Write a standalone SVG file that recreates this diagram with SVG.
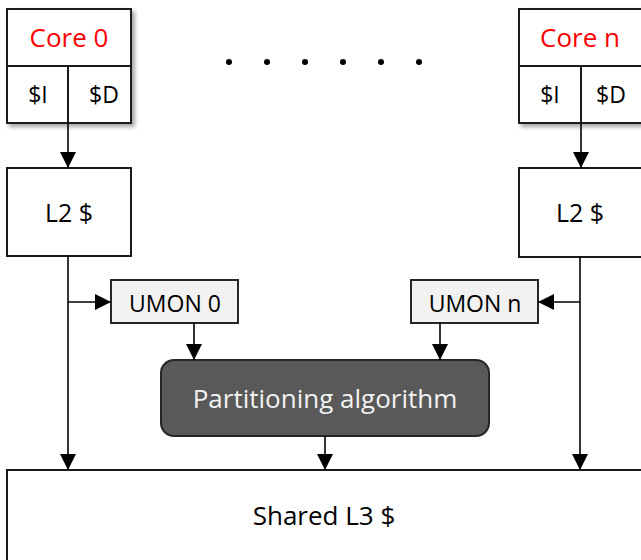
<svg xmlns="http://www.w3.org/2000/svg" width="641" height="560" viewBox="0 0 641 560">
<style>
.box{fill:#fff;stroke:#1a1a1a;stroke-width:2}
.umon{fill:#f2f2f2;stroke:#262626;stroke-width:2}
.alg{fill:#595959;stroke:#262626;stroke-width:2}
.t{font-family:"Open Sans","DejaVu Sans",sans-serif;text-anchor:middle;fill:#000}
.red{fill:#ff0000}
.w{fill:#f2f2f2}
.conn{stroke:#000;stroke-width:1.6;fill:none}
</style>
<defs>
<filter id="sh" x="-10%" y="-10%" width="130%" height="130%">
<feDropShadow dx="3" dy="3" stdDeviation="2" flood-color="#000" flood-opacity="0.35"/>
</filter>
<marker id="ah" markerUnits="userSpaceOnUse" markerWidth="16" markerHeight="16" refX="16" refY="8" orient="auto">
<path d="M0,0 L16,8 L0,16 z" fill="#000"/>
</marker>
</defs>
<g id="core0">
<rect class="box" x="7" y="9" width="124" height="114" filter="url(#sh)"/>
<line x1="7" y1="66" x2="131" y2="66" stroke="#1a1a1a" stroke-width="2"/>
<line x1="68" y1="66" x2="68" y2="123" stroke="#1a1a1a" stroke-width="2"/>
<text class="t red" x="69" y="47" font-size="26">Core 0</text>
<text class="t" x="38" y="103" font-size="23">$I</text>
<text class="t" x="104" y="103" font-size="23">$D</text>
</g>
<g id="coren">
<rect class="box" x="519" y="9" width="126" height="114" filter="url(#sh)"/>
<line x1="519" y1="66" x2="645" y2="66" stroke="#1a1a1a" stroke-width="2"/>
<line x1="581" y1="66" x2="581" y2="123" stroke="#1a1a1a" stroke-width="2"/>
<text class="t red" x="580" y="47" font-size="26">Core n</text>
<text class="t" x="550" y="103" font-size="23">$I</text>
<text class="t" x="611" y="103" font-size="23">$D</text>
</g>
<g id="dots" fill="#000">
<circle cx="229" cy="62" r="3"/>
<circle cx="267" cy="62" r="3"/>
<circle cx="305" cy="62" r="3"/>
<circle cx="343" cy="62" r="3"/>
<circle cx="381" cy="62" r="3"/>
<circle cx="419" cy="62" r="3"/>
</g>
<g id="l2_0">
<rect class="box" x="7" y="168" width="124" height="88"/>
<text class="t" x="69" y="222" font-size="25">L2 $</text>
</g>
<g id="l2_n">
<rect class="box" x="519" y="168" width="126" height="89"/>
<text class="t" x="580" y="222" font-size="25">L2 $</text>
</g>
<g id="umon0">
<rect class="umon" x="111" y="280" width="127" height="43"/>
<text class="t" x="175" y="312" font-size="23">UMON 0</text>
</g>
<g id="umonn">
<rect class="umon" x="411" y="280" width="127" height="43"/>
<text class="t" x="475" y="312" font-size="23">UMON n</text>
</g>
<g id="partition">
<rect class="alg" x="161" y="360" width="328" height="76" rx="13"/>
<text class="t w" x="325" y="408" font-size="26">Partitioning algorithm</text>
</g>
<g id="l3">
<rect class="box" x="7" y="470" width="640" height="100"/>
<text class="t" x="324" y="525" font-size="26">Shared L3 $</text>
</g>
<g id="connectors" class="conn">
<line x1="68" y1="123" x2="68" y2="168" marker-end="url(#ah)"/>
<line x1="581" y1="123" x2="581" y2="168" marker-end="url(#ah)"/>
<line x1="68" y1="256" x2="68" y2="470" marker-end="url(#ah)"/>
<line x1="68" y1="302" x2="111" y2="302" marker-end="url(#ah)"/>
<line x1="580" y1="257" x2="580" y2="470" marker-end="url(#ah)"/>
<line x1="580" y1="302" x2="538" y2="302" marker-end="url(#ah)"/>
<line x1="194" y1="323" x2="194" y2="360" marker-end="url(#ah)"/>
<line x1="440" y1="323" x2="440" y2="360" marker-end="url(#ah)"/>
<line x1="325" y1="436" x2="325" y2="470" marker-end="url(#ah)"/>
</g>
</svg>
